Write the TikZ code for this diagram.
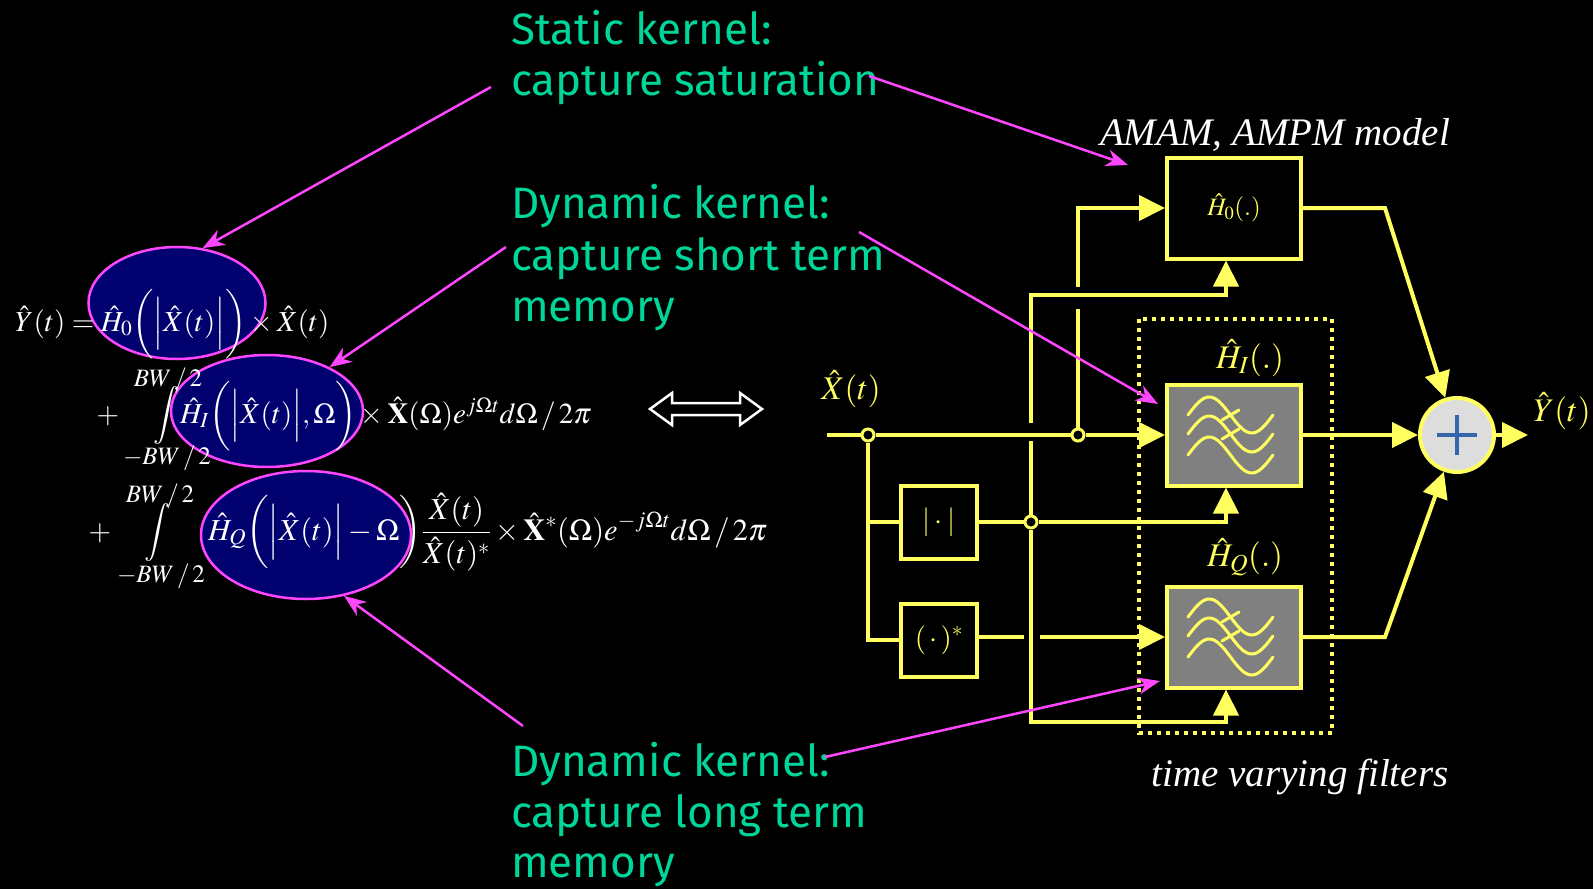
\documentclass[tikz,border=0pt]{standalone}
\usepackage{mathptmx}
\usepackage{fontspec}
\setmainfont{Liberation Serif}
\newfontfamily\kernelfont{Fira Sans}
\usetikzlibrary{arrows.meta,shapes.geometric}
\definecolor{kernelgreen}{RGB}{0,214,153}
\definecolor{pinkc}{RGB}{255,70,255}
\definecolor{navyc}{RGB}{0,0,110}
\definecolor{yellowc}{RGB}{255,255,96}
\definecolor{plusblue}{RGB}{51,102,170}
\definecolor{plusgray}{RGB}{221,221,221}
\definecolor{filtergray}{RGB}{128,128,128}
\newcommand{\WavePeriod}{85}
\newcommand{\WaveAmp}{18}

\tikzset{
  kernel/.style={text=kernelgreen, font=\kernelfont\fontsize{44}{52}\selectfont, anchor=base west, inner sep=0pt},
  eq/.style={text=white, font=\fontsize{29}{35}\selectfont, inner sep=0pt},
  limit/.style={eq, font=\fontsize{25}{30}\selectfont},
  kernelring/.style={ellipse, draw=pinkc, fill=navyc, line width=2.5pt, inner sep=0pt},
  pointer/.style={draw=pinkc, line width=2.5pt, -{Stealth[length=22pt,width=17pt,inset=7pt]}},
  wire/.style={draw=yellowc, line width=4pt},
  arrowin/.style={-{Triangle[length=26pt,width=25pt]}},
  block/.style={draw=yellowc, line width=4pt, minimum width=134pt, minimum height=101pt, inner sep=0pt, text=yellowc},
  filterblock/.style={block, fill=filtergray},
  smallblock/.style={block, minimum width=76pt, minimum height=73pt, font=\fontsize{29}{35}\selectfont},
  junction/.style={circle, draw=yellowc, fill=black, line width=3pt, minimum size=12pt, inner sep=0pt},
  sig/.style={text=yellowc, font=\fontsize{33}{40}\selectfont, inner sep=0pt},
  note/.style={text=white, font=\itshape\fontsize{39}{46}\selectfont, inner sep=0pt},
  wave/.style={draw=yellowc, line width=3pt, line cap=round},
}

\begin{document}
\begin{tikzpicture}[x=1pt,y=-1pt]
\useasboundingbox (0,0) rectangle (1593,889);
\fill[black] (0,0) rectangle (1593,889);

% kernels marked on the series
\node[kernelring, minimum width=177pt, minimum height=112pt] (ker0) at (177,303) {};
\node[kernelring, minimum width=192pt, minimum height=112pt] (ker1) at (267,411) {};
\node[kernelring, minimum width=210pt, minimum height=128pt] (ker2) at (306,535) {};

% the series
\node[eq, anchor=base west] (eqY) at (15,331) {$\hat{Y}(t)=\hat{H}_0\biggl(\Bigl|\hat{X}(t)\Bigr|\biggr)\times\hat{X}(t)$};
\node[eq, anchor=base] (plusI) at (108,423) {$+$};
\node[eq, anchor=base] (intI) at (167,423) {$\displaystyle\int$};
\node[limit] (topI) at (168,380) {$BW\,/\,2$};
\node[limit] (botI) at (167,458) {$-BW\,/\,2$};
\node[eq, anchor=base west] (termI) at (180,423) {$\hat{H}_I\biggl(\Bigl|\hat{X}(t)\Bigr|,\Omega\biggr)\times\hat{\mathbf{X}}(\Omega)e^{j\Omega t}d\Omega\,/\,2\pi$};
\node[eq, anchor=base] (plusQ) at (100,540) {$+$};
\node[eq, anchor=base] (intQ) at (158,540) {$\displaystyle\int$};
\node[limit] (topQ) at (160,496) {$BW\,/\,2$};
\node[limit] (botQ) at (161,576) {$-BW\,/\,2$};
\node[eq, anchor=base west, font=\fontsize{30.5}{36}\selectfont] (termQ) at (208,540) {$\hat{H}_Q\biggl(\Bigl|\hat{X}(t)\Bigr|-\Omega\biggr)\displaystyle\frac{\hat{X}(t)}{\hat{X}(t)^{*}}\times\hat{\mathbf{X}}^{*}(\Omega)e^{-j\Omega t}d\Omega\,/\,2\pi$};

% equivalence arrow
\draw[white, line width=2.5pt, fill=black] (650,409) -- (672,393) -- (672,403) -- (740,403) -- (740,393) -- (762,409) -- (740,425) -- (740,415) -- (672,415) -- (672,425) -- cycle;

% green notes
\node[kernel] (stat1) at (511,44) {Static kernel:};
\node[kernel] (stat2) at (511,95) {capture saturation};
\node[kernel] (short1) at (511,218) {Dynamic kernel:};
\node[kernel] (short2) at (511,270) {capture short term};
\node[kernel] (short3) at (511,321) {memory};
\node[kernel] (long1) at (511,776) {Dynamic kernel:};
\node[kernel] (long2) at (511,827) {capture long term};
\node[kernel] (long3) at (511,877) {memory};

% block diagram
\draw[yellowc, line width=4pt, dash pattern=on 4pt off 5pt] (1139,319) rectangle (1332,733);
\node[block, font=\fontsize{25}{30}\selectfont] (H0) at (1234,208) {$\hat{H}_0(.)$};
\node[filterblock] (HI) at (1234,435) {};
\node[filterblock] (HQ) at (1234,637) {};
\node[smallblock] (abs) at (939,522) {$|\cdot|$};
\node[smallblock] (conj) at (939,640) {$(\,\cdot\,)^{*}$};
\node[circle, draw=yellowc, fill=plusgray, line width=4pt, minimum size=74pt, inner sep=0pt] (sum) at (1457,435) {};
\draw[plusblue, line width=4.5pt] ([xshift=-20pt]sum.center) -- ([xshift=20pt]sum.center);
\draw[plusblue, line width=4.5pt] ([yshift=-20pt]sum.center) -- ([yshift=20pt]sum.center);

\foreach \f in {HI,HQ}{
  \begin{scope}[shift={(\f.center)}]
    \foreach \wy in {-20,-1,20}
      \draw[wave] plot[domain=0:\WavePeriod,samples=40,smooth] ({\x-46},{\wy-\WaveAmp*sin(360/\WavePeriod*\x)});
    \draw[wave] (-12,-15) -- (5,-25);
    \draw[wave] (-12,4) -- (5,-6);
  \end{scope}
}

\node[sig] (xlab) at (851,389) {$\hat{X}(t)$};
\node[sig] (ylab) at (1562,411) {$\hat{Y}(t)$};
\node[sig] (HIlab) at (1250,358) {$\hat{H}_I(.)$};
\node[sig] (HQlab) at (1245,557) {$\hat{H}_Q(.)$};
\node[note] (amlab) at (1275,135) {AMAM, AMPM model};
\node[note] (tvlab) at (1300,777) {time varying filters};

% wires
\coordinate (xin) at (827,435);
\coordinate (yout) at (1528,435);
\coordinate (ctop) at (1031,295);
\coordinate (cgap1) at (1031,441);
\coordinate (cgap2) at (1031,423);
\coordinate (cbot) at (1031,722);
\coordinate (fgap1) at (1078,309);
\coordinate (fgap2) at (1078,287);
\coordinate (qgap1) at (1024,637);
\coordinate (qgap2) at (1040,637);
\coordinate (bend0) at (1385,208);
\coordinate (bendQ) at (1385,637);
\node[junction] (j1) at (868,435) {};
\node[junction] (j2) at (1078,435) {};
\node[junction] (j3) at (1031,522) {};

\draw[wire] (xin) -- (j1);
\draw[wire] (j1) -- (j2);
\draw[wire,arrowin] (j2) -- (HI.west);
\draw[wire] (j1) |- (conj.west);
\draw[wire] (j1 |- abs.west) -- (abs.west);
\draw[wire] (abs.east) -- (j3);
\draw[wire,arrowin] (j3) -| ([xshift=-8pt]HI.south);
\draw[wire] (j3) -- (cgap1);
\draw[wire,arrowin] (cgap2) -- (ctop) -| ([xshift=-8pt]H0.south);
\draw[wire,arrowin] (j3) -- (cbot) -| ([xshift=-8pt]HQ.south);
\draw[wire] (j2) -- (fgap1);
\draw[wire,arrowin] (fgap2) |- (H0.west);
\draw[wire] (conj.east |- HQ.west) -- (qgap1);
\draw[wire,arrowin] (qgap2) -- (HQ.west);
\draw[wire,arrowin] (H0.east) -- (bend0) -- (sum);
\draw[wire,arrowin] (HI.east) -- (sum);
\draw[wire,arrowin] (HQ.east) -- (bendQ) -- (sum);
\draw[wire,arrowin] (sum) -- (yout);

% pointers from the notes
\coordinate (s0) at (491,87);
\coordinate (s1) at (869,76);
\coordinate (s2) at (506,247);
\coordinate (s3) at (859,232);
\coordinate (s4) at (523,726);
\coordinate (s5) at (825,757);
\coordinate (amtip) at (1128,165);
\coordinate (hitip) at (1158,404);
\coordinate (hqtip) at (1160,681);
\draw[pointer] (s0) -- (ker0.65);
\draw[pointer] (s1) -- (amtip);
\draw[pointer] (s2) -- (ker1.35);
\draw[pointer] (s3) -- (hitip);
\draw[pointer] (s4) -- (ker2.302);
\draw[pointer] (s5) -- (hqtip);
\end{tikzpicture}
\end{document}
